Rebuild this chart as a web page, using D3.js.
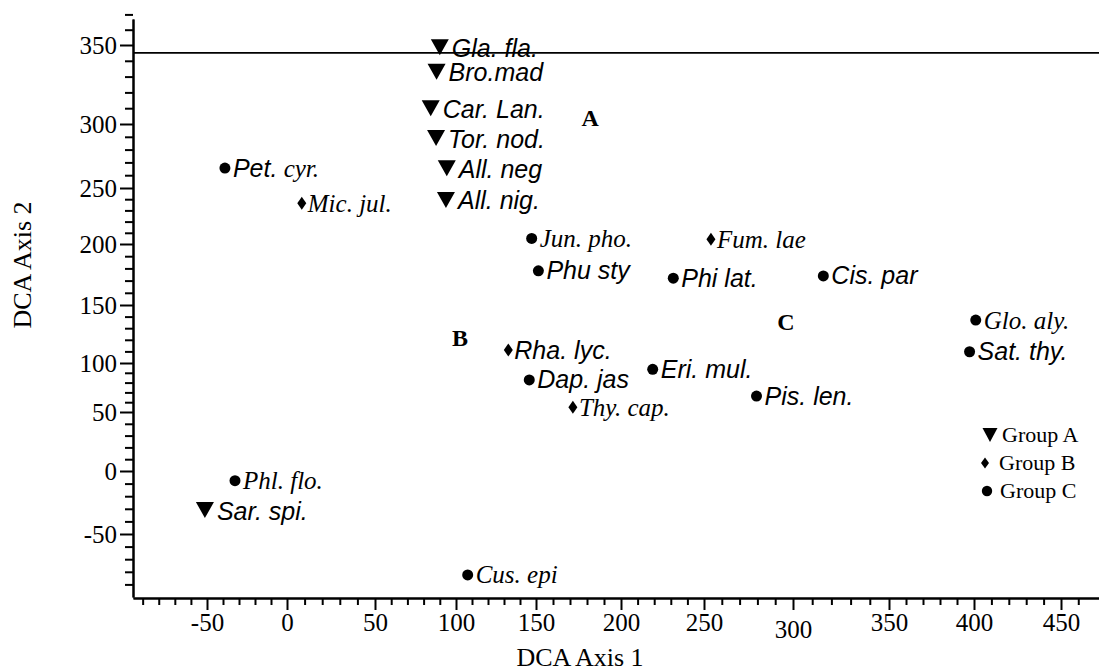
<!DOCTYPE html>
<html>
<head>
<meta charset="utf-8">
<script src="https://cdn.jsdelivr.net/npm/d3@7"></script>
<style>
  body { margin: 0; background: #fff; }
  svg { display: block; }
</style>
</head>
<body>
<div id="chart"></div>
<script>
// DCA ordination scores
const species = ["Gla. fla.", "Bro.mad", "Car. Lan.", "Tor. nod.", "All. neg", "All. nig.",
  "Pet. cyr.", "Mic. jul.", "Jun. pho.", "Fum. lae", "Phu sty", "Phi lat.", "Cis. par",
  "Glo. aly.", "Sat. thy.", "Rha. lyc.", "Eri. mul.", "Dap. jas", "Pis. len.", "Thy. cap.",
  "Phl. flo.", "Sar. spi.", "Cus. epi"];
const axis1 = [90, 88, 84.4, 87.7, 94.3, 93.8,
  -38.8, 8.4, 147.3, 253.9, 151.4, 231.5, 315.8,
  401, 397.4, 132.7, 219.1, 145.8, 279.5, 171.7,
  -32.5, -51.3, 107.3];
const axis2 = [348.5, 333, 310, 289, 265.4, 239.3,
  265.6, 236.3, 205, 204.2, 178, 172, 173.8,
  137, 109.7, 111.2, 93.6, 82.7, 66.3, 54.8,
  -7.7, -31, -82.5];
const group = ["A", "A", "A", "A", "A", "A",
  "C", "B", "C", "B", "C", "C", "C",
  "C", "C", "B", "C", "C", "C", "B",
  "C", "A", "C"];

// group letters placed on the plot
const groupNames = ["A", "B", "C"];
const groupX = [181.8, 102.5, 296];
const groupY = [303.8, 121.6, 135.3];

const legendLabels = ["Group A", "Group B", "Group C"];

const xTicks = [-50, 0, 50, 100, 150, 200, 250, 300, 350, 400, 450];
const yTicks = [-50, 0, 50, 100, 150, 200, 250, 300, 350];
const refLine = 345;

// styles
const sans = "'Liberation Sans', Arial, sans-serif";
const serif = "'Liberation Serif', 'Times New Roman', serif";
const timesNames = ["Mic. jul.", "Jun. pho.", "Fum. lae", "Glo. aly.", "Thy. cap.", "Phl. flo.", "Cus. epi"];

const width = 1099, height = 672;

const svg = d3.select("#chart").append("svg")
  .attr("width", width)
  .attr("height", height);

// the original axes are not evenly spaced, so use piecewise scales
const x = d3.scaleLinear()
  .domain([-96, ...xTicks, 472])
  .range([133, 207, 287, 375, 456, 536, 621, 704, 793, 889, 974, 1061, 1099]);
const y = d3.scaleLinear()
  .domain([-100, ...yTicks, 367])
  .range([597, 534, 471, 412, 363, 305, 244, 188, 124, 45, 19]);

const xMinor = d3.range(-90, 470, 10).filter(v => !xTicks.includes(v));
const yMinor = d3.range(-90, 380, 10).filter(v => !yTicks.includes(v));

// plain hyphen for negatives, like the original
const fmt = d => String(d);

// x axis
svg.append("g")
  .attr("transform", "translate(0,598)")
  .call(d3.axisBottom(x).tickValues(xMinor).tickSize(7).tickSizeOuter(0).tickFormat(""))
  .call(g => g.selectAll("line, path").attr("stroke", "#000").attr("stroke-width", 2));
const xAxis = svg.append("g")
  .attr("transform", "translate(0,598)")
  .call(d3.axisBottom(x).tickValues(xTicks).tickSize(12).tickSizeOuter(0).tickPadding(3).tickFormat(fmt))
  .call(g => g.selectAll("line, path").attr("stroke", "#000").attr("stroke-width", 2));
xAxis.selectAll("text")
  .attr("font-family", serif).attr("font-size", 25).attr("fill", "#000")
  .attr("dy", d => d === 300 ? "1.0em" : "0.71em");

// y axis
svg.append("g")
  .attr("transform", "translate(133,0)")
  .call(d3.axisLeft(y).tickValues(yMinor).tickSize(8).tickSizeOuter(0).tickFormat(""))
  .call(g => g.selectAll("line, path").attr("stroke", "#000").attr("stroke-width", 2));
svg.append("g")
  .attr("transform", "translate(133,0)")
  .call(d3.axisLeft(y).tickValues(yTicks).tickSize(13).tickSizeOuter(0).tickPadding(3).tickFormat(fmt))
  .call(g => g.selectAll("line, path").attr("stroke", "#000").attr("stroke-width", 2))
  .call(g => g.selectAll("text").attr("font-family", serif).attr("font-size", 25).attr("fill", "#000"));

// horizontal reference line near the top
svg.append("line")
  .attr("x1", x(-96)).attr("x2", width)
  .attr("y1", y(refLine)).attr("y2", y(refLine))
  .attr("stroke", "#000").attr("stroke-width", 1.6);

// axis titles
svg.append("text")
  .attr("x", 580).attr("y", 666)
  .attr("text-anchor", "middle")
  .attr("font-family", serif).attr("font-size", 26)
  .text("DCA Axis 1");
svg.append("text")
  .attr("transform", "translate(31,265) rotate(-90)")
  .attr("text-anchor", "middle")
  .attr("font-family", serif).attr("font-size", 26)
  .text("DCA Axis 2");

// marker shapes
const triangle = (w, h) => `M${-w / 2},${-h / 2}L${w / 2},${-h / 2}L0,${h / 2}Z`;
const diamond = (w, h) => `M0,${-h / 2}L${w / 2},0L0,${h / 2}L${-w / 2},0Z`;

const pts = species.map((s, i) => ({ name: s, gx: axis1[i], gy: axis2[i], grp: group[i] }));

const pt = svg.append("g").selectAll("g")
  .data(pts)
  .join("g")
  .attr("transform", d => `translate(${x(d.gx)},${y(d.gy)})`);

pt.filter(d => d.grp === "A").append("path").attr("d", triangle(18, 16)).attr("fill", "#000");
pt.filter(d => d.grp === "B").append("path").attr("d", diamond(9, 13)).attr("fill", "#000");
pt.filter(d => d.grp === "C").append("circle").attr("r", 5.5).attr("fill", "#000");

const labels = pt.append("text")
  .attr("x", d => d.grp === "A" ? 12 : d.grp === "B" ? 6 : 8)
  .attr("y", d => d.grp === "A" ? 9.5 : 8.5)
  .attr("font-size", 25)
  .attr("font-style", "italic")
  .attr("font-family", d => timesNames.includes(d.name) ? serif : sans);

labels.filter(d => d.name !== "Pet. cyr.").text(d => d.name);
// Pet. cyr. is set in two fonts in the original
labels.filter(d => d.name === "Pet. cyr.").each(function () {
  const t = d3.select(this);
  t.append("tspan").attr("font-family", sans).text("Pet.");
  t.append("tspan").attr("font-family", serif).text(" cyr.");
});

// group letters
svg.append("g").selectAll("text")
  .data(groupNames)
  .join("text")
  .attr("x", (d, i) => x(groupX[i]))
  .attr("y", (d, i) => y(groupY[i]))
  .attr("dy", "0.35em")
  .attr("text-anchor", "middle")
  .attr("font-family", serif).attr("font-size", 24).attr("font-weight", "bold")
  .text(d => d);

// legend
const legend = svg.append("g").selectAll("g")
  .data(legendLabels)
  .join("g")
  .attr("transform", (d, i) => `translate(${[990, 985, 987][i]},${[435, 463, 491][i]})`);
legend.filter((d, i) => i === 0).append("path").attr("d", triangle(15, 14));
legend.filter((d, i) => i === 1).append("path").attr("d", diamond(8, 11));
legend.filter((d, i) => i === 2).append("circle").attr("r", 5.2);
legend.append("text")
  .attr("x", (d, i) => [12, 14, 13][i])
  .attr("y", 7)
  .attr("font-family", serif).attr("font-size", 22)
  .text(d => d);
</script>
</body>
</html>
